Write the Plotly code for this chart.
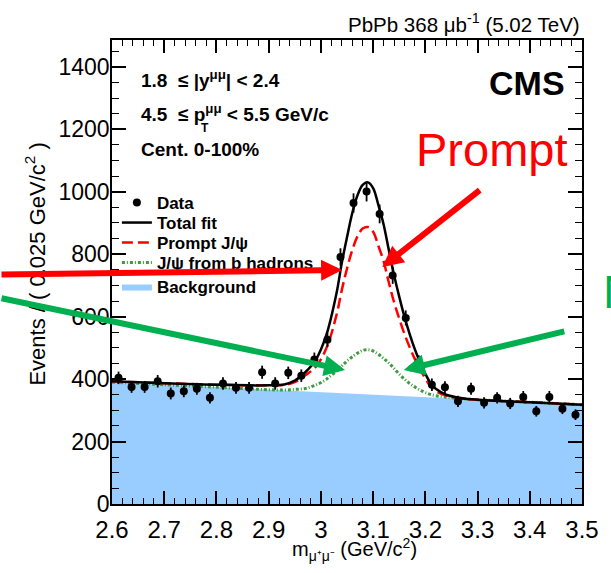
import plotly.graph_objects as go

# ---- data ----
bin_centers = [2.6125, 2.6375, 2.6625, 2.6875, 2.7125, 2.7375, 2.7625, 2.7875, 2.8125, 2.8375,
               2.8625, 2.8875, 2.9125, 2.9375, 2.9625, 2.9875, 3.0125, 3.0375, 3.0625, 3.0875,
               3.1125, 3.1375, 3.1625, 3.1875, 3.2125, 3.2375, 3.2625, 3.2875, 3.3125, 3.3375,
               3.3625, 3.3875, 3.4125, 3.4375, 3.4625, 3.4875]
data_counts = [404, 375, 375, 393, 354, 361, 369, 340, 386, 372,
               372, 422, 386, 420, 411, 463, 526, 791, 964, 1001,
               929, 732, 596, 455, 382, 374, 329, 369, 324, 340,
               322, 343, 297, 343, 305, 286]
data_errors = [20, 19, 19, 20, 19, 19, 19, 18, 20, 19,
               19, 21, 20, 20, 20, 22, 23, 28, 31, 32,
               30, 27, 24, 21, 20, 19, 18, 19, 18, 18,
               18, 19, 17, 19, 17, 17]

curve_x = [2.60, 2.70, 2.80, 2.90, 2.93, 2.95, 2.97, 2.99, 3.01, 3.03, 3.04, 3.05, 3.06, 3.07,
           3.08, 3.09, 3.10, 3.11, 3.12, 3.13, 3.14, 3.15, 3.16, 3.17, 3.18, 3.19, 3.20, 3.21,
           3.22, 3.24, 3.27, 3.30, 3.40, 3.50]
total_fit = [393, 387, 382, 380, 383, 395, 422, 461, 539, 676, 772, 854, 931, 988,
             1022, 1030, 1012, 958, 896, 814, 734, 664, 600, 544, 495, 453, 417, 387,
             369, 350, 339, 334, 326, 318]
prompt_fit = [393, 387, 382, 380, 382, 390, 412, 439, 497, 606, 685, 754, 813, 857,
              882, 887, 872, 827, 778, 710, 647, 594, 545, 502, 464, 431, 402, 377,
              362, 347, 338, 334, 326, 318]
nonprompt_fit = [390, 382, 374, 366, 365, 367, 370, 381, 399, 426, 442, 458, 471, 483,
                 492, 494, 490, 480, 466, 452, 434, 416, 400, 386, 375, 365, 357, 351,
                 347, 342, 337, 334, 326, 318]
background_x = [2.60, 3.50]
background_y = [390, 318]

x_ticks = [2.6, 2.7, 2.8, 2.9, 3.0, 3.1, 3.2, 3.3, 3.4, 3.5]
y_ticks = [0, 200, 400, 600, 800, 1000, 1200, 1400]

FONT = "Liberation Sans, Arial, Helvetica, sans-serif"

fig = go.Figure()

fig.add_trace(go.Scatter(
    x=background_x, y=background_y, mode="lines", fill="tozeroy",
    fillcolor="#99ccff", line=dict(width=0, color="#99ccff"),
    name="Background", legend="legend5"))
fig.add_trace(go.Scatter(
    x=curve_x, y=nonprompt_fit, mode="lines", line_shape="spline",
    line=dict(color="#3c9c3c", width=3, dash="3px,2px,1px,2px"),
    name="J/ψ from b hadrons", legend="legend4"))
fig.add_trace(go.Scatter(
    x=curve_x, y=prompt_fit, mode="lines", line_shape="spline",
    line=dict(color="#ff0000", width=2.5, dash="11px,5px"),
    name="Prompt J/ψ", legend="legend3"))
fig.add_trace(go.Scatter(
    x=curve_x, y=total_fit, mode="lines", line_shape="spline",
    line=dict(color="black", width=2.5),
    name="Total fit", legend="legend2"))
fig.add_trace(go.Scatter(
    x=bin_centers, y=data_counts, mode="markers",
    marker=dict(color="black", size=8),
    error_y=dict(type="data", array=data_errors, color="black", thickness=1.8, width=0),
    name="Data", legend="legend"))

axis_common = dict(
    showline=True, linecolor="black", linewidth=1.5, mirror="ticks",
    ticks="inside", tickcolor="black", tickwidth=1.5,
    showgrid=False, zeroline=False,
)
fig.update_xaxes(range=[2.6, 3.5], tickvals=x_ticks, ticklen=13,
                 minor=dict(dtick=0.02, ticks="inside", ticklen=6, tickcolor="black", tickwidth=1.2),
                 ticklabelstandoff=3, tickfont=dict(family=FONT, size=24, color="black"),
                 **axis_common)
fig.update_yaxes(range=[0, 1486], tickvals=y_ticks, ticklen=14,
                 minor=dict(dtick=50, ticks="inside", ticklen=7, tickcolor="black", tickwidth=1.2),
                 ticklabelstandoff=-4, tickfont=dict(family=FONT, size=23, color="black"),
                 **axis_common)

ann = []
ann.append(dict(text="PbPb 368 μb<sup>-1</sup> (5.02 TeV)", xref="paper", yref="paper",
                x=1.0, y=1.036, xanchor="right", yanchor="middle", showarrow=False,
                font=dict(family=FONT, size=20.5, color="black")))
ann.append(dict(text="<b>CMS</b>", xref="paper", yref="paper", x=0.968, y=0.907,
                xanchor="right", yanchor="middle", showarrow=False,
                font=dict(family=FONT, size=34, color="black")))
ann.append(dict(text="<b>1.8  ≤ |y<sup>μμ</sup>| &lt; 2.4</b>", xref="paper", yref="paper",
                x=0.0575, y=0.915, xanchor="left", yanchor="middle", showarrow=False,
                font=dict(family=FONT, size=19, color="black")))
ann.append(dict(text="<b>4.5  ≤ p<sup>μμ</sup> &lt; 5.5 GeV/c</b>", xref="paper", yref="paper",
                x=0.0575, y=0.843, xanchor="left", yanchor="middle", showarrow=False,
                font=dict(family=FONT, size=19, color="black")))
ann.append(dict(text="<b>T</b>", xref="paper", yref="paper",
                x=0.186, y=0.810, xanchor="left", yanchor="middle", showarrow=False,
                font=dict(family=FONT, size=12, color="black")))
ann.append(dict(text="<b>Cent. 0-100%</b>", xref="paper", yref="paper",
                x=0.0575, y=0.763, xanchor="left", yanchor="middle", showarrow=False,
                font=dict(family=FONT, size=19, color="black")))
ann.append(dict(text="Prompt", xref="paper", yref="paper", x=0.975, y=0.763,
                xanchor="right", yanchor="middle", showarrow=False,
                font=dict(family=FONT, size=47, color="#ff0000")))
ann.append(dict(text="Nonprompt", xref="paper", yref="paper", x=1.041, y=0.458,
                xanchor="left", yanchor="middle", showarrow=False,
                font=dict(family=FONT, size=47, color="#00b050")))
ann.append(dict(text="Events / ( 0.025 GeV/c<sup>2</sup> )", xref="paper", yref="paper",
                x=-0.164, y=0.518, xanchor="center", yanchor="middle", textangle=-90,
                showarrow=False, font=dict(family=FONT, size=22, color="black")))
ann.append(dict(text="m<sub>μ⁺μ⁻</sub> (GeV/c<sup>2</sup>)", xref="paper", yref="paper",
                x=0.517, y=-0.097, xanchor="center", yanchor="middle",
                showarrow=False, font=dict(family=FONT, size=20, color="black")))

# arrows (tip in paper coords, tail offset in px)
arrows = [
    (0.4896, 0.5043, -347, 4.5, "#ff0000"),
    (0.575, 0.5108, 99, -78, "#ff0000"),
    (0.4958, 0.2888, -350, -72, "#00b050"),
    (0.6208, 0.2888, 162, -39, "#00b050"),
]
for (tx, ty, axp, ayp, col) in arrows:
    ann.append(dict(text="", xref="paper", yref="paper", x=tx, y=ty,
                    axref="pixel", ayref="pixel", ax=axp, ay=ayp,
                    showarrow=True, arrowhead=2, arrowsize=0.7, arrowwidth=6,
                    arrowcolor=col, standoff=0, startstandoff=0))

legend_font = dict(family=FONT, size=17, color="black", weight="bold")
def leg(y):
    return dict(x=0.0104, y=y, xanchor="left", yanchor="middle",
                bgcolor="rgba(0,0,0,0)", borderwidth=0, font=legend_font, itemwidth=30)

fig.update_layout(
    width=611, height=573,
    margin=dict(l=112, r=19, t=40, b=69),
    paper_bgcolor="white", plot_bgcolor="white",
    font=dict(family=FONT, color="black"),
    showlegend=True,
    legend=leg(0.6487),
    legend2=leg(0.6056),
    legend3=leg(0.5625),
    legend4=leg(0.5194),
    legend5=leg(0.4677),
    annotations=ann,
)

fig.write_html("out.html", config={"displayModeBar": False},
               post_script="document.body.style.margin='0';document.body.style.overflow='hidden';")
